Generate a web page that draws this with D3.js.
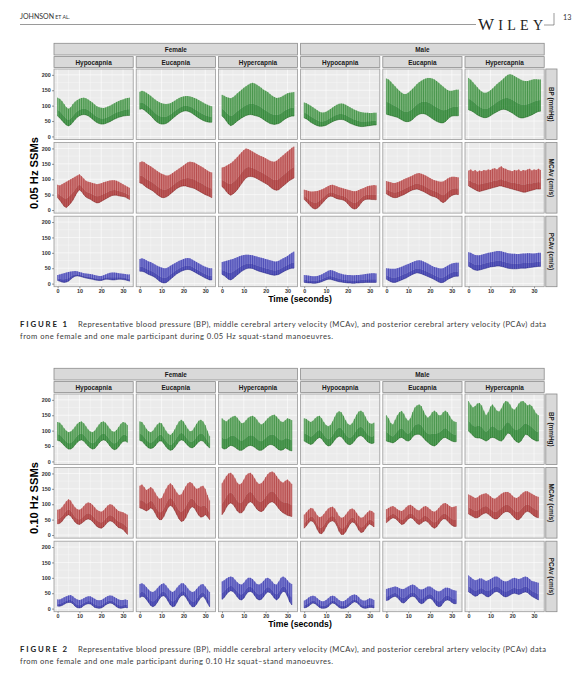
<!DOCTYPE html>
<html>
<head>
<meta charset="utf-8">
<script src="https://cdn.jsdelivr.net/npm/d3@7"></script>
<style>
  body { margin: 0; background: #fff; }
  svg { display: block; }
</style>
</head>
<body>
<script>
// facets
var groups = ['Female', 'Male'];
var conditions = ['Hypocapnia', 'Eucapnia', 'Hypercapnia'];
var measures = ['BP (mmHg)', 'MCAv (cm/s)', 'PCAv (cm/s)'];
var yTicks = [0, 50, 100, 150, 200];
var yMinor = [25, 75, 125, 175];
var xTicks = [0, 10, 20, 30];
var xMinor = [5, 15, 25];

// beat times (s)
var beats05 = [0,1,2,3,4,5,6,7,8,9,10,11,12,13,14,15,16,17,18,19,20,21,22,23,24,25,26,27,28,29,30,31,32,33];
var beats10 = [0,1,2,3,4,5,6,7,8,9,10,11,12,13,14,15,16,17,18,19,20,21,22,23,24,25,26,27,28,29,30,31,32];

// 0.05 Hz: peak (systolic) per beat, panels row by row: BP, MCAv, PCAv x F-hypo, F-eu, F-hyper, M-hypo, M-eu, M-hyper
var sys05 = [
  [126,122,115,105,95,90,95,105,113,118,122,125,126,124,120,115,110,104,98,95,93,92,94,97,100,104,108,112,115,118,120,123,125,126],
  [145,148,146,142,137,132,126,120,115,111,108,106,105,106,108,112,116,121,125,128,130,131,131,130,128,125,122,118,114,110,106,103,100,98],
  [135,132,128,126,124,127,133,140,146,152,158,163,168,172,174,172,168,163,158,152,148,144,138,132,128,125,126,128,132,136,140,142,143,144],
  [110,108,104,100,95,90,85,80,78,78,80,84,89,94,99,103,106,107,106,103,99,95,91,87,84,81,79,78,77,77,76,76,77,77],
  [188,185,178,170,163,155,148,142,138,138,142,148,155,162,170,176,181,185,188,190,190,188,185,180,174,168,162,156,151,148,148,150,152,152],
  [190,184,176,168,160,152,146,142,142,145,150,156,163,170,176,182,188,195,200,202,200,196,192,188,184,181,180,180,182,184,186,186,185,185],
  [82,80,84,88,92,96,100,104,108,112,116,110,102,95,92,90,88,86,84,85,87,90,92,94,96,97,97,95,92,88,84,80,76,72],
  [155,158,156,150,146,142,137,132,127,122,118,115,112,112,115,120,125,130,135,140,145,150,155,157,156,154,150,146,142,138,133,128,124,122],
  [138,140,144,148,152,158,165,172,180,188,195,200,198,194,190,186,182,178,175,172,168,164,160,158,157,160,166,172,178,184,190,196,202,206],
  [66,64,62,60,60,61,62,64,67,70,74,78,81,82,80,77,74,72,70,68,66,64,62,61,62,65,68,71,74,77,79,80,81,80],
  [94,92,90,88,88,90,93,96,100,103,106,109,112,116,119,120,118,115,112,108,104,100,97,95,93,92,93,97,102,106,108,108,107,106],
  [128,132,126,130,124,128,126,130,128,132,130,134,136,132,138,142,136,134,130,128,126,130,128,132,126,130,128,132,134,128,132,130,134,130],
  [28,30,32,34,36,38,39,40,41,40,38,36,34,33,32,31,30,28,26,25,25,27,30,33,35,36,36,35,34,33,32,31,30,30],
  [80,82,80,76,72,70,66,62,58,55,52,50,50,53,58,62,66,70,74,77,80,82,83,82,78,74,70,66,62,58,55,52,50,50],
  [70,72,74,76,78,80,83,86,89,91,93,94,94,93,92,90,88,86,84,82,80,78,76,74,72,72,74,78,82,86,90,95,100,104],
  [28,27,26,25,24,24,25,27,30,34,38,42,44,43,40,37,34,32,30,29,28,28,27,27,28,28,29,30,31,32,33,34,34,33],
  [50,49,48,48,48,50,52,55,58,61,64,67,70,73,75,76,75,72,69,65,61,57,54,52,50,49,50,54,58,62,65,67,68,68],
  [102,100,96,93,92,92,94,96,98,100,101,103,104,106,106,105,103,101,99,98,97,97,96,96,97,98,98,99,99,98,98,99,100,100]
];
// 0.05 Hz: trough (diastolic) per beat
var dia05 = [
  [66,60,52,44,37,34,38,46,55,62,67,70,71,70,67,62,56,50,45,42,40,40,42,45,48,52,56,59,62,64,66,67,68,68],
  [88,90,86,80,74,68,60,52,46,42,40,40,42,46,52,58,64,70,75,79,82,83,82,79,75,70,65,60,56,52,49,47,46,46],
  [66,60,50,40,35,38,44,50,55,60,64,68,70,71,70,68,66,64,60,55,50,46,42,40,39,40,42,46,52,57,61,64,66,66],
  [60,57,52,46,42,38,35,33,33,34,36,40,44,48,51,53,55,55,54,51,47,43,40,37,35,33,32,32,33,34,35,36,37,37],
  [72,70,68,66,64,62,58,54,50,48,48,50,55,62,68,72,74,74,72,68,63,58,53,49,46,44,44,48,55,62,66,67,67,67],
  [86,84,80,75,70,66,63,61,61,63,67,72,76,80,84,87,88,87,84,80,76,71,66,62,60,60,62,64,67,70,74,78,81,82],
  [40,32,22,12,8,14,22,32,45,58,65,60,50,42,38,35,30,26,23,24,28,32,36,40,44,47,48,48,46,45,44,42,38,34],
  [88,86,80,74,70,66,62,56,50,45,41,40,42,46,52,58,64,70,74,77,78,78,76,74,72,70,66,62,58,54,50,47,44,40],
  [76,70,60,52,48,52,58,66,76,86,96,104,108,109,108,106,102,98,94,90,86,82,76,70,66,64,66,72,78,84,90,96,100,104],
  [34,28,20,12,6,3,6,12,20,28,36,42,45,44,40,37,35,34,32,28,20,12,6,3,5,12,22,30,34,35,35,34,34,33],
  [52,48,44,41,40,41,44,47,50,54,58,62,65,67,68,66,63,60,56,52,48,45,43,40,35,28,24,28,35,42,47,50,51,50],
  [78,74,70,66,62,60,62,64,66,68,70,72,74,76,78,78,76,74,72,70,68,66,64,62,60,58,58,60,62,64,66,68,68,68],
  [10,8,5,4,5,8,14,20,24,25,24,22,20,18,17,15,14,12,11,10,10,12,14,14,13,12,12,13,14,14,13,12,10,8],
  [40,40,38,34,30,27,24,20,14,8,4,2,3,8,14,20,26,32,36,40,43,45,46,45,42,38,34,30,26,22,18,15,12,12],
  [30,26,20,14,12,16,22,28,34,40,44,48,50,50,49,46,43,40,38,36,34,32,30,28,27,28,30,34,38,42,45,48,50,50],
  [4,3,2,2,1,1,2,4,6,9,12,14,14,12,10,8,6,5,4,3,2,2,1,1,2,2,3,3,4,4,4,4,4,4],
  [14,10,6,4,4,6,9,12,15,18,22,26,30,33,35,34,32,29,26,23,20,17,13,9,5,3,4,8,13,17,20,23,24,24],
  [56,52,47,44,43,44,46,48,50,52,54,55,56,57,57,56,54,52,50,49,48,48,48,49,50,50,50,51,52,53,54,55,56,56]
];

// 0.10 Hz: peak per beat
var sys10 = [
  [128,126,118,108,100,95,97,104,113,122,128,130,124,114,104,97,95,100,110,120,128,130,126,116,106,98,96,102,112,122,128,126,118],
  [130,128,118,106,98,95,100,110,120,126,124,112,100,90,86,92,104,118,130,135,130,118,106,98,100,110,122,132,135,130,118,100,82],
  [140,134,130,136,142,146,148,142,132,124,126,134,142,146,148,144,136,126,120,124,132,140,146,150,152,146,138,130,128,134,140,138,134],
  [140,138,132,128,132,140,146,148,140,128,118,114,118,130,145,158,163,160,148,134,122,118,124,138,152,162,165,160,146,132,124,122,126],
  [150,140,125,120,135,150,160,164,155,140,132,140,160,175,182,185,180,165,150,142,148,160,165,160,150,150,160,165,160,148,136,130,128],
  [196,184,175,180,188,190,182,165,150,160,178,185,175,165,162,172,188,196,194,185,172,168,176,188,195,196,190,182,185,180,168,156,150],
  [82,84,90,100,110,116,112,100,90,84,82,86,94,102,106,104,98,90,82,78,76,80,88,96,100,98,92,84,78,76,74,70,66],
  [160,164,156,146,150,156,150,138,126,118,120,135,150,162,168,162,150,138,130,132,145,158,168,172,168,158,150,152,158,160,150,130,112],
  [168,180,192,200,202,196,184,170,164,168,180,194,200,202,196,184,172,166,168,176,188,198,204,206,202,192,182,174,170,176,180,174,166],
  [66,74,82,88,86,76,64,58,60,68,78,86,90,92,86,74,62,56,58,66,76,84,86,82,72,62,56,58,66,74,80,78,72],
  [84,88,92,94,90,84,80,78,82,90,96,98,94,88,82,80,86,92,94,90,84,78,76,80,88,96,102,104,100,94,90,92,94],
  [132,128,124,120,122,128,132,134,136,132,126,120,118,122,128,134,138,140,140,136,128,122,120,124,132,138,142,142,138,134,130,126,124],
  [30,30,33,37,40,43,44,40,34,30,28,30,34,38,40,40,36,32,28,27,28,32,37,41,43,42,38,34,30,28,28,30,28],
  [80,82,78,70,62,56,54,58,66,74,80,82,76,66,58,54,58,68,76,82,82,76,66,58,54,56,64,72,78,80,72,62,54],
  [88,92,98,102,104,102,94,86,80,78,84,94,100,100,96,88,80,78,82,90,98,100,96,88,80,78,88,100,104,100,92,84,80],
  [26,30,36,40,42,40,34,28,24,24,28,34,40,42,40,34,28,24,24,28,34,40,44,46,44,38,30,26,26,30,34,32,28],
  [64,66,68,70,72,70,66,64,64,68,72,76,78,76,70,64,62,64,68,72,72,68,62,58,56,58,64,68,68,66,62,60,58],
  [108,102,96,92,94,98,98,94,90,92,96,100,104,104,100,94,90,88,90,94,98,100,98,96,98,102,104,102,96,90,88,86,84]
];
// 0.10 Hz: trough per beat
var dia10 = [
  [68,66,60,52,45,40,40,45,54,62,68,70,66,58,50,44,40,42,50,60,67,70,68,60,50,42,38,40,48,58,65,66,62],
  [68,66,58,50,44,42,44,50,60,66,66,58,48,40,36,38,46,56,66,70,68,60,52,46,44,48,56,64,68,66,58,50,44],
  [44,40,42,48,52,50,46,40,36,36,40,46,50,52,50,46,40,36,36,40,46,52,55,54,50,44,38,36,38,44,40,36,34],
  [66,62,58,55,58,66,74,78,74,64,55,50,52,60,70,78,82,80,72,62,56,54,58,66,76,82,84,80,72,64,60,58,60],
  [66,64,62,60,64,70,76,78,74,68,66,70,80,86,88,88,84,76,68,62,56,52,50,54,62,70,76,78,74,70,66,64,64],
  [98,92,84,78,76,76,74,70,66,70,76,78,76,72,68,66,72,84,92,90,80,70,64,61,66,78,88,86,80,74,70,66,66],
  [36,38,44,54,62,66,62,52,42,36,34,38,44,50,52,50,44,36,28,24,22,26,34,42,46,44,38,30,24,22,18,10,2],
  [88,86,82,78,82,88,84,72,58,50,50,60,76,90,96,92,80,66,52,44,46,56,72,86,92,88,76,64,58,60,66,60,50],
  [66,76,90,100,104,100,90,78,72,72,80,94,104,108,104,94,84,78,76,80,90,100,106,108,104,96,86,78,72,68,64,62,60],
  [22,30,40,46,44,34,18,6,4,12,26,38,44,46,42,30,12,2,2,10,24,36,42,40,30,16,8,10,20,30,36,32,26],
  [40,46,52,56,54,48,40,34,36,44,52,56,54,46,38,34,38,44,46,42,34,26,22,26,36,46,52,52,46,38,32,28,28],
  [68,64,60,56,56,60,66,70,72,68,62,56,52,52,58,66,72,76,76,72,64,56,50,50,56,66,74,77,74,68,62,58,56],
  [8,8,10,14,18,20,20,16,8,3,2,4,10,14,16,15,10,4,2,1,2,6,12,16,18,17,12,6,2,1,2,4,2],
  [36,40,38,30,20,10,6,10,20,32,40,42,36,24,12,6,8,20,34,42,44,38,26,14,6,6,14,26,36,40,32,18,6],
  [30,36,46,54,58,56,48,38,30,28,34,46,54,56,52,42,32,28,30,38,48,54,52,44,34,28,34,48,56,54,40,22,12],
  [2,4,8,14,18,16,10,4,1,1,2,6,14,18,16,10,4,1,1,2,6,12,18,22,20,14,6,2,1,2,4,4,2],
  [26,28,34,38,40,36,28,20,18,24,32,38,40,38,30,20,16,18,26,32,34,30,20,10,6,8,18,26,28,26,20,16,16],
  [54,50,44,40,42,48,50,46,40,38,42,48,54,56,52,46,40,38,40,44,48,50,48,46,48,52,54,52,46,40,36,32,28]
];

var capText = 'Representative blood pressure (BP), middle cerebral artery velocity (MCAv), and posterior cerebral artery velocity (PCAv) data';

var sans = '"Liberation Sans", Arial, sans-serif';
var svg = d3.select('body').append('svg')
    .attr('width', 576).attr('height', 680)
    .style('font-family', sans);

// colours per measure row
var palette = [
    {line: '#23802a', dark: '#0a560a', light: '#6aac6a'},
    {line: '#a82e2e', dark: '#761010', light: '#c96a6a'},
    {line: '#2e2ea8', dark: '#101076', light: '#6a6ac9'}
];
var darkShare = 0.35;   // lower part of each beat drawn darker

// facet layout
var colX = d3.scaleBand().domain(d3.range(6)).range([54, 544.2]).paddingInner(0.0365);
var rowY = d3.scaleBand().domain(d3.range(3)).range([69, 286.7]).paddingInner(0.042);
var pw = colX.bandwidth(), ph = rowY.bandwidth();
var x = d3.scaleLinear().domain([-1.65, 34.65]).range([0, pw]);
var y = d3.scaleLinear().domain([-10, 219]).range([ph, 0]);

function strip(g, x0, y0, w, h, label, vertical){
    g.append('rect').attr('x', x0).attr('y', y0).attr('width', w).attr('height', h)
        .attr('fill', '#d9d9d9').attr('stroke', '#8c8c8c').attr('stroke-width', 0.8);
    var t = g.append('text').text(label)
        .attr('font-size', 6.4).attr('font-weight', 'bold').attr('fill', '#1a1a1a')
        .attr('text-anchor', 'middle').attr('dominant-baseline', 'central');
    if (vertical) t.attr('transform', 'translate(' + (x0 + w / 2) + ',' + (y0 + h / 2) + ') rotate(90)');
    else t.attr('x', x0 + w / 2).attr('y', y0 + h / 2 + 0.3);
}

function styleAxis(a){
    a.attr('font-family', sans).attr('font-size', 5.4);
    a.select('.domain').remove();
    a.selectAll('line').attr('stroke', '#333').attr('stroke-width', 0.5);
    a.selectAll('text').attr('font-weight', 'bold').attr('fill', '#333');
}

function drawFigure(oy, beats, sys, dia, rowTitle, capNum, capLine2){
    var fig = svg.append('g').attr('transform', 'translate(0,' + oy + ')');

    groups.forEach(function(gname, gi){
        var x0 = colX(gi * 3), x1 = colX(gi * 3 + 2) + pw;
        strip(fig, x0, 43.3, x1 - x0, 11.7, gname, false);
    });
    d3.range(6).forEach(function(ci){
        strip(fig, colX(ci), 56.6, pw, 10.8, conditions[ci % 3], false);
    });
    measures.forEach(function(m, ri){
        strip(fig, 545.8, rowY(ri), 11.2, ph, m, true);
    });

    var mid = function(d){ return d.lo + darkShare * (d.hi - d.lo); };
    var upper = d3.area()
        .x(function(d){ return x(d.t); })
        .y0(function(d){ return y(mid(d)); })
        .y1(function(d){ return y(d.hi); });
    var lower = d3.area()
        .x(function(d){ return x(d.t); })
        .y0(function(d){ return y(d.lo); })
        .y1(function(d){ return y(mid(d)); });

    for (var r = 0; r < 3; r++) {
        for (var c = 0; c < 6; c++) {
            var k = r * 6 + c;
            var pts = sys[k].map(function(v, i){ return {t: beats[i], hi: v, lo: dia[k][i]}; });
            var col = palette[r];
            var p = fig.append('g').attr('transform', 'translate(' + colX(c) + ',' + rowY(r) + ')');

            p.append('rect').attr('width', pw).attr('height', ph).attr('fill', '#ebebeb');
            p.selectAll('.gmy').data(yMinor).enter().append('line')
                .attr('x1', 0).attr('x2', pw).attr('y1', y).attr('y2', y)
                .attr('stroke', '#fff').attr('stroke-width', 0.3);
            p.selectAll('.gmx').data(xMinor).enter().append('line')
                .attr('y1', 0).attr('y2', ph).attr('x1', x).attr('x2', x)
                .attr('stroke', '#fff').attr('stroke-width', 0.3);
            p.selectAll('.gy').data(yTicks).enter().append('line')
                .attr('x1', 0).attr('x2', pw).attr('y1', y).attr('y2', y)
                .attr('stroke', '#fff').attr('stroke-width', 0.6);
            p.selectAll('.gx').data(xTicks).enter().append('line')
                .attr('y1', 0).attr('y2', ph).attr('x1', x).attr('x2', x)
                .attr('stroke', '#fff').attr('stroke-width', 0.6);

            p.append('path').datum(pts).attr('d', upper)
                .attr('fill', col.light).attr('opacity', 0.85);
            p.append('path').datum(pts).attr('d', lower)
                .attr('fill', col.line).attr('opacity', 0.75);
            // one stroke per beat, trough to peak
            p.selectAll('.beat').data(pts).enter().append('line')
                .attr('x1', function(d){ return x(d.t); })
                .attr('x2', function(d){ return x(d.t); })
                .attr('y1', function(d){ return y(d.lo); })
                .attr('y2', function(d){ return y(d.hi); })
                .attr('stroke', col.line).attr('stroke-width', 0.8).attr('opacity', 0.75);
            p.append('path').datum(pts)
                .attr('d', d3.line().x(function(d){ return x(d.t); }).y(function(d){ return y(d.lo); }))
                .attr('fill', 'none').attr('stroke', col.dark).attr('stroke-width', 0.7).attr('opacity', 0.6);

            p.append('rect').attr('width', pw).attr('height', ph)
                .attr('fill', 'none').attr('stroke', '#9a9a9a').attr('stroke-width', 0.8);

            if (c === 0) {
                var ya = p.append('g').call(d3.axisLeft(y).tickValues(yTicks).tickSize(2).tickPadding(1.3));
                styleAxis(ya);
            }
            if (r === 2) {
                var xa = p.append('g').attr('transform', 'translate(0,' + ph + ')')
                    .call(d3.axisBottom(x).tickValues(xTicks).tickSize(1.6).tickPadding(0.6));
                styleAxis(xa);
            }
        }
    }

    fig.append('text').text(rowTitle)
        .attr('transform', 'translate(34,173) rotate(-90)')
        .attr('text-anchor', 'middle').attr('dominant-baseline', 'central')
        .attr('font-size', 11.2).attr('font-weight', 'bold').attr('fill', '#000');
    fig.append('text').text('Time (seconds)')
        .attr('x', 300).attr('y', 299).attr('dominant-baseline', 'central')
        .attr('text-anchor', 'middle').attr('font-size', 8.7).attr('font-weight', 'bold').attr('fill', '#000');

    // caption
    var cap = fig.append('g').style('font-family', 'Lato, "Open Sans", sans-serif').attr('fill', '#3a3a3a');
    cap.append('text').text('FIGURE ' + capNum)
        .attr('x', 20).attr('y', 326.7).attr('font-size', 7.8).attr('font-weight', 'bold')
        .attr('fill', '#222').attr('textLength', 47).attr('lengthAdjust', 'spacing');
    cap.append('text').text(capText)
        .attr('x', 78).attr('y', 326.7).attr('font-size', 7.6)
        .attr('textLength', 468).attr('lengthAdjust', 'spacing');
    cap.append('text').text(capLine2)
        .attr('x', 20).attr('y', 339).attr('font-size', 7.6)
        .attr('textLength', 313).attr('lengthAdjust', 'spacing');
}

// running head
var head = svg.append('g').style('font-family', 'Lato, "Open Sans", sans-serif').attr('fill', '#333');
var ht = head.append('text').attr('x', 20).attr('y', 19);
ht.append('tspan').text('JOHNSON').attr('font-size', 7);
ht.append('tspan').text(' ET AL.').attr('font-size', 5.2);
head.append('line').attr('x1', 20).attr('x2', 476).attr('y1', 24.5).attr('y2', 24.5)
    .attr('stroke', '#555').attr('stroke-width', 0.6);
head.append('line').attr('x1', 544).attr('x2', 554).attr('y1', 25).attr('y2', 25)
    .attr('stroke', '#555').attr('stroke-width', 0.6);
head.append('line').attr('x1', 554).attr('x2', 554).attr('y1', 13).attr('y2', 25)
    .attr('stroke', '#555').attr('stroke-width', 0.6);
var wl = head.append('text').attr('x', 478).attr('y', 29.5)
    .style('font-family', '"Liberation Serif", "DejaVu Serif", serif').attr('fill', '#222')
    .attr('textLength', 65).attr('lengthAdjust', 'spacing');
wl.append('tspan').text('W').attr('font-size', 17);
wl.append('tspan').text('ILEY').attr('font-size', 14);
head.append('text').text('13').attr('x', 563).attr('y', 19.5).attr('font-size', 7.2);

drawFigure(0, beats05, sys05, dia05, '0.05 Hz SSMs', 1,
    'from one female and one male participant during 0.05 Hz squat-stand manoeuvres.');
drawFigure(325, beats10, sys10, dia10, '0.10 Hz SSMs', 2,
    'from one female and one male participant during 0.10 Hz squat\u2013stand manoeuvres.');
</script>
</body>
</html>
